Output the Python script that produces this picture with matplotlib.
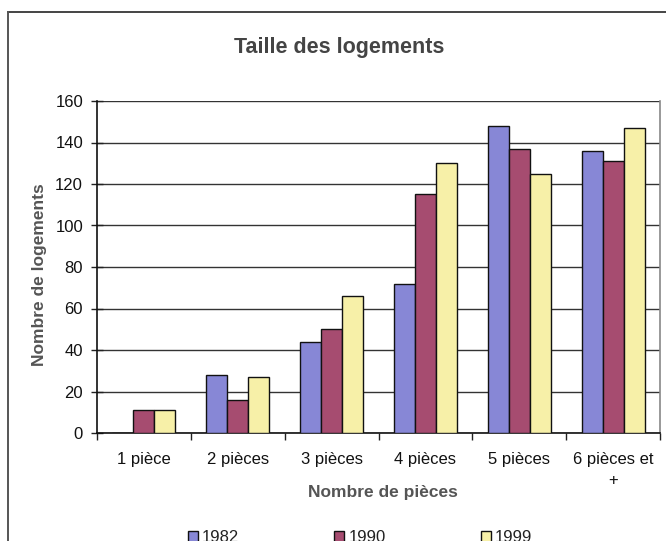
import matplotlib
matplotlib.use("Agg")
import matplotlib.pyplot as plt
from matplotlib.lines import Line2D
import numpy as np

plt.rcParams['font.family'] = ['Liberation Sans', 'DejaVu Sans']

categories = ["1 pièce", "2 pièces", "3 pièces", "4 pièces", "5 pièces", "6 pièces et\n+"]
years = ["1982", "1990", "1999"]
v1982 = [0, 28, 44, 72, 148, 136]
v1990 = [11, 16, 50, 115, 137, 131]
v1999 = [11, 27, 66, 130, 125, 147]
yticks = [0, 20, 40, 60, 80, 100, 120, 140, 160]

colors = ["#8787D6", "#A64C70", "#F7F0A8"]
series = [v1982, v1990, v1999]

fig = plt.figure(figsize=(6.66, 5.41), dpi=100)
ax = fig.add_axes([97/666, (541-433)/541, (660-97)/666, (433-101)/541])

x = np.arange(len(categories))
w = 0.224
for i, (vals, c, lab) in enumerate(zip(series, colors, years)):
    ax.bar(x + (i-1)*w, vals, width=w, color=c, edgecolor="#111111",
           linewidth=1.0, label=lab, zorder=3)

ax.set_xlim(-0.5, len(categories)-0.5)
ax.set_ylim(0, 160)
ax.set_yticks(yticks)
ax.yaxis.grid(True, color="#333333", linewidth=1.0, zorder=0)
ax.set_axisbelow(True)

ax.set_xticks(x)
ax.set_xticklabels(categories, fontsize=12, color="#111111", linespacing=1.5)
ax.set_xticks(np.arange(len(categories)+1) - 0.5, minor=True)
ax.tick_params(axis='x', which='major', length=0, pad=14)
ax.tick_params(axis='x', which='minor', length=5, direction='out', width=1, color="#222222")
ax.tick_params(axis='y', length=8, direction='inout', width=1, labelsize=12,
               labelcolor="#111111", color="#222222", pad=6)

for s in ["left", "bottom"]:
    ax.spines[s].set_color("#111111")
    ax.spines[s].set_linewidth(1.2)
ax.spines["top"].set_visible(False)
ax.spines["right"].set_color("#888888")
ax.spines["right"].set_linewidth(1.2)

ax.set_xlabel("Nombre de pièces", fontsize=12.5, fontweight="bold", color="#555555")
ax.xaxis.set_label_coords((383-97)/563, -(485-433)/332)
ax.set_ylabel("Nombre de logements", fontsize=12.5, fontweight="bold", color="#555555")
ax.yaxis.set_label_coords((47-97)/563, (433-275)/332)

fig.text(339/666, 1 - 47/541, "Taille des logements", ha="center", va="center",
         fontsize=15.5, fontweight="bold", color="#444444")

leg = fig.legend(loc="center", bbox_to_anchor=(360/666, 1 - 538/541), ncol=3,
                 frameon=False, fontsize=12, columnspacing=5.7, handlelength=0.6,
                 handleheight=0.6, handletextpad=0.25)
for t in leg.get_texts():
    t.set_color("#222222")

# outer frame of the chart
fig.add_artist(Line2D([8/666, 1.0], [1 - 12/541, 1 - 12/541], transform=fig.transFigure,
                      color="#444444", linewidth=1.4))
fig.add_artist(Line2D([8/666, 8/666], [0.0, 1 - 12/541], transform=fig.transFigure,
                      color="#555555", linewidth=1.4))

fig.savefig("out.png", dpi=100)
